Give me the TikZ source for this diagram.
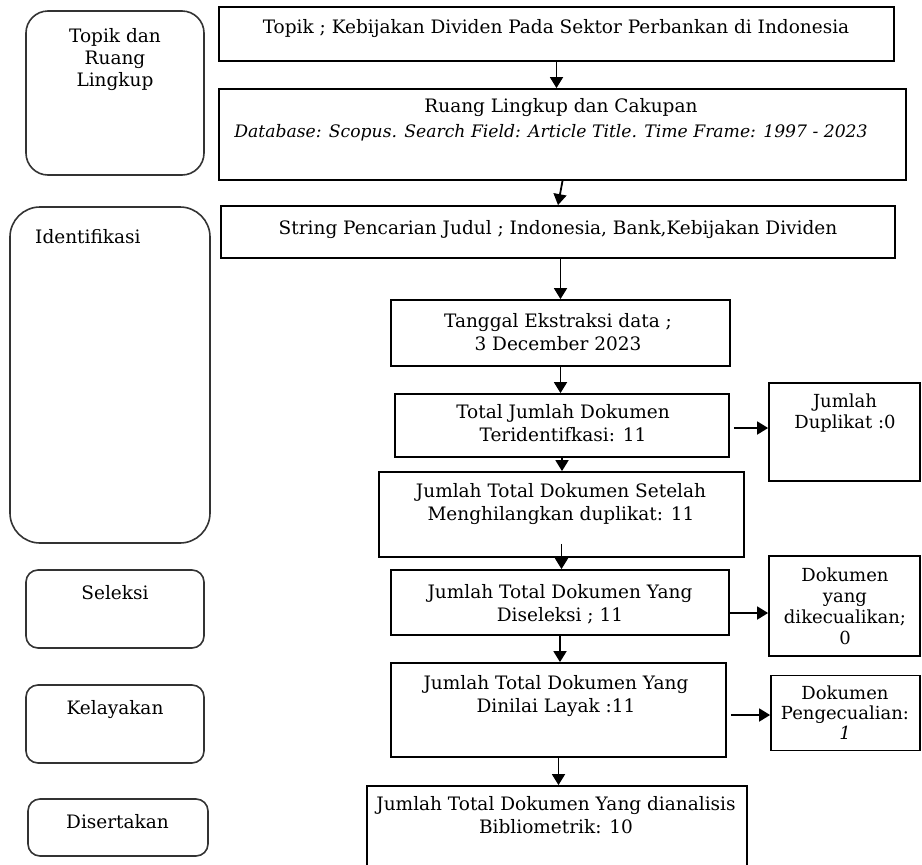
\documentclass[tikz,border=0pt]{standalone}
\usepackage{fontspec}
\setmainfont{DejaVu Serif}
\usetikzlibrary{arrows.meta}
\begin{document}
\begin{tikzpicture}[x=1pt,y=-1pt,
  rbox/.style={draw=black!80, line width=1.6pt, rounded corners=#1, inner sep=0pt},
  flowbox/.style={draw=black, line width=1.8pt, inner sep=0pt},
  txt/.style={inner sep=0pt, align=center, font=\fontsize{18.5}{23}\selectfont},
  txtS/.style={inner sep=0pt, align=center, font=\fontsize{18}{21.5}\selectfont},
  arr/.style={line width=1.8pt, -{Triangle[length=11pt,width=13pt]}}
]
\useasboundingbox (0,0) rectangle (922,865);
\clip (0,0) rectangle (922,865);

% left stage boxes
\node[rbox=22pt, minimum width=178pt, minimum height=164pt] (l1) at (115,93) {};
\node[rbox=30pt, minimum width=200pt, minimum height=336pt] (l2) at (110,375) {};
\node[rbox=12pt, minimum width=178pt, minimum height=78pt] (l3) at (115,609) {};
\node[rbox=12pt, minimum width=178pt, minimum height=78pt] (l4) at (115,724) {};
\node[rbox=12pt, minimum width=180pt, minimum height=57pt] (l5) at (118,827.5) {};

\node[txt, font=\fontsize{18.5}{22}\selectfont] (l1t) at (115,59.5) {Topik dan\\Ruang\\Lingkup};
\node[txt, anchor=west] (l2t) at (35,237) {Identifikasi};
\node[txt] (l3t) at (115,593) {Seleksi};
\node[txt] (l4t) at (115,710) {Kelayakan};
\node[txt] (l5t) at (117.5,822) {Disertakan};

% main flow boxes
\node[flowbox, minimum width=675pt, minimum height=54pt] (b1) at (556.5,34) {};
\node[flowbox, minimum width=687pt, minimum height=91pt] (b2) at (562.5,134.5) {};
\node[flowbox, minimum width=674pt, minimum height=52pt] (b3) at (558,232) {};
\node[flowbox, minimum width=339pt, minimum height=66pt] (b4) at (560.5,333) {};
\node[flowbox, minimum width=334pt, minimum height=63pt] (b5) at (562,425.5) {};
\node[flowbox, minimum width=365pt, minimum height=85pt] (b6) at (561.5,514.5) {};
\node[flowbox, minimum width=338pt, minimum height=65pt] (b7) at (560,602.5) {};
\node[flowbox, minimum width=335pt, minimum height=94pt] (b8) at (558.5,710) {};
\node[flowbox, minimum width=380pt, minimum height=100pt] (b9) at (557,836) {};

\node[txt] (b1t) at (556,29) {Topik ; Kebijakan Dividen Pada Sektor Perbankan di Indonesia};
\node[txt] (b2t) at (561,108) {Ruang Lingkup dan Cakupan};
\node[txt, font=\fontsize{17.2}{23}\selectfont] (b2i) at (551,133) {\textit{Database: Scopus. Search Field: Article Title. Time Frame: 1997 - 2023}};
\node[txt] (b3t) at (558,230) {String Pencarian Judul ; Indonesia, Bank,Kebijakan Dividen};
\node[txt] (b4t) at (558,332.5) {Tanggal Ekstraksi data ;\\3 December 2023};
\node[txt] (b5t) at (563,423.5) {Total Jumlah Dokumen\\Teridentifkasi: 11};
\node[txt] (b6t) at (561,504.5) {Jumlah Total Dokumen Setelah\\Menghilangkan duplikat: 11};
\node[txt] (b7t) at (560,604) {Jumlah Total Dokumen Yang\\Diseleksi ; 11};
\node[txt] (b8t) at (556,696.5) {Jumlah Total Dokumen Yang\\Dinilai Layak :11};
\node[txt] (b9t) at (556,815.5) {Jumlah Total Dokumen Yang dianalisis\\Bibliometrik: 10};

% side boxes
\node[flowbox, minimum width=151pt, minimum height=98pt] (s1) at (844.5,432) {};
\node[flowbox, minimum width=151pt, minimum height=100pt] (s2) at (844.5,606) {};
\node[flowbox, minimum width=149pt, minimum height=75pt] (s3) at (845.5,713) {};

\node[txtS] (s1t) at (845,413) {Jumlah\\Duplikat :0};
\node[txtS, font=\fontsize{18}{21}\selectfont] (s2t) at (845,606) {Dokumen\\yang\\dikecualikan;\\0};
\node[txtS, font=\fontsize{18}{20}\selectfont] (s3t) at (845,713) {Dokumen\\Pengecualian:\\\textit{1}};

% connectors
\draw[arr] (b1.south) -- (b1.south |- b2.north);
\draw[arr] (b2.south) -- (b3.north);
\draw[arr] (b3.south -| b4.north) -- (b4.north);
\draw[arr] (b4.south) -- (b4.south |- b5.north);
\draw[arr] (b5.south) -- (b5.south |- b6.north);
\draw[arr] ([yshift=14pt]b6.south) -- (b6.south |- b7.north);
\draw[arr] (b7.south) -- (b7.south |- b8.north);
\draw[arr] (b8.south) -- (b8.south |- b9.north);

\draw[arr] ([xshift=4pt,yshift=-2.5pt]b5.east) -- ([yshift=-2.5pt]b5.east -| s1.west);
\draw[arr] ([yshift=-10.5pt]b7.east) -- ([yshift=-10.5pt]b7.east -| s2.west);
\draw[arr] ([xshift=4pt,yshift=-5pt]b8.east) -- ([yshift=-5pt]b8.east -| s3.west);
\end{tikzpicture}
\end{document}
